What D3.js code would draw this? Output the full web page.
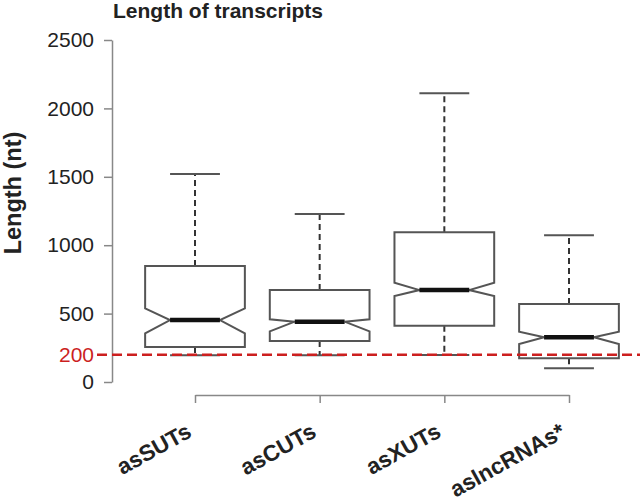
<!DOCTYPE html>
<html>
<head>
<meta charset="utf-8">
<script src="https://cdn.jsdelivr.net/npm/d3@7"></script>
<style>
  body { margin: 0; background: #fff; }
  text { font-family: "Liberation Sans", Arial, Helvetica, sans-serif; }
</style>
</head>
<body>
<div id="chart"></div>
<script>
// values (nt)
const categories = ["asSUTs", "asCUTs", "asXUTs", "aslncRNAs*"];
const whiskerHigh = [1520, 1228, 2110, 1072];
const q3 = [848, 672, 1094, 570];
const median = [453, 441, 672, 327];
const q1 = [256, 300, 412, 173];
const whiskerLow = [196, 196, 198, 100];
const notchLow = [356, 370, 629, 278];
const notchHigh = [538, 458, 726, 368];
const yTicks = [0, 500, 1000, 1500, 2000, 2500];
const cutoff = 200;

const width = 640, height = 503;

const svg = d3.select("#chart")
    .append("svg")
    .attr("width", width)
    .attr("height", height);

const y = d3.scaleLinear().domain([0, 2500]).range([382, 40]);
const x = d3.scalePoint().domain(categories).range([195, 569]);
const boxW = x.step() * 0.8;

// title
svg.append("text")
    .attr("x", 113)
    .attr("y", 18)
    .attr("font-size", 21)
    .attr("font-weight", "bold")
    .attr("fill", "#222")
    .text("Length of transcripts");

// y label
svg.append("text")
    .attr("transform", "translate(21,193) rotate(-90)")
    .attr("text-anchor", "middle")
    .attr("font-size", 23.5)
    .attr("font-weight", "bold")
    .attr("fill", "#222")
    .text("Length (nt)");

// y axis
const yAxis = svg.append("g")
    .attr("transform", "translate(112,0)")
    .call(d3.axisLeft(y).tickValues(yTicks).tickFormat(d3.format("d"))
        .tickSize(8).tickSizeOuter(0).tickPadding(10));
yAxis.select(".domain").attr("stroke", "#888").attr("stroke-width", 1.5);
yAxis.selectAll(".tick line").attr("stroke", "#888").attr("stroke-width", 1.5);
yAxis.selectAll(".tick text")
    .attr("font-size", 21)
    .attr("fill", "#222")
    .style("font-family", "'Liberation Sans', Arial, sans-serif");

// red cutoff label
svg.append("text")
    .attr("x", 94)
    .attr("y", y(cutoff))
    .attr("dy", "0.35em")
    .attr("text-anchor", "end")
    .attr("font-size", 21)
    .attr("fill", "#cc1f1f")
    .text(cutoff);

// x axis
const xAxis = svg.append("g")
    .attr("transform", "translate(0,395)")
    .call(d3.axisBottom(x).tickSize(8).tickSizeOuter(0).tickFormat(""));
xAxis.select(".domain").attr("stroke", "#888").attr("stroke-width", 1.5);
xAxis.selectAll(".tick line").attr("stroke", "#888").attr("stroke-width", 1.5);

svg.selectAll(".xlab")
    .data(categories)
    .enter()
    .append("text")
    .attr("class", "xlab")
    .attr("transform", d => "translate(" + (x(d) - 2) + ",436) rotate(-29)")
    .attr("text-anchor", "end")
    .attr("font-size", 22.5)
    .attr("font-weight", "bold")
    .attr("fill", "#222")
    .text(d => d);

const stroke = "#555";

// boxes
const boxes = svg.selectAll(".box")
    .data(categories)
    .enter()
    .append("g")
    .attr("class", "box");

// whiskers (dashed)
boxes.append("line")
    .attr("x1", d => x(d)).attr("x2", d => x(d))
    .attr("y1", (d, i) => y(q3[i])).attr("y2", (d, i) => y(whiskerHigh[i]))
    .attr("stroke", "#333").attr("stroke-width", 2).attr("stroke-dasharray", "6,4");
boxes.append("line")
    .attr("x1", d => x(d)).attr("x2", d => x(d))
    .attr("y1", (d, i) => y(q1[i])).attr("y2", (d, i) => y(whiskerLow[i]))
    .attr("stroke", "#333").attr("stroke-width", 2).attr("stroke-dasharray", "6,4");

// caps
boxes.append("line")
    .attr("x1", d => x(d) - boxW / 4).attr("x2", d => x(d) + boxW / 4)
    .attr("y1", (d, i) => y(whiskerHigh[i])).attr("y2", (d, i) => y(whiskerHigh[i]))
    .attr("stroke", stroke).attr("stroke-width", 2);
boxes.append("line")
    .attr("x1", d => x(d) - boxW / 4).attr("x2", d => x(d) + boxW / 4)
    .attr("y1", (d, i) => y(whiskerLow[i])).attr("y2", (d, i) => y(whiskerLow[i]))
    .attr("stroke", stroke).attr("stroke-width", 2);

// notched box
boxes.append("path")
    .attr("d", (d, i) => {
        const l = x(d) - boxW / 2, r = x(d) + boxW / 2, ins = boxW / 4;
        const p = d3.path();
        p.moveTo(l, y(q3[i]));
        p.lineTo(r, y(q3[i]));
        p.lineTo(r, y(notchHigh[i]));
        p.lineTo(r - ins, y(median[i]));
        p.lineTo(r, y(notchLow[i]));
        p.lineTo(r, y(q1[i]));
        p.lineTo(l, y(q1[i]));
        p.lineTo(l, y(notchLow[i]));
        p.lineTo(l + ins, y(median[i]));
        p.lineTo(l, y(notchHigh[i]));
        p.closePath();
        return p.toString();
    })
    .attr("fill", "#fff")
    .attr("stroke", stroke)
    .attr("stroke-width", 2)
    .attr("stroke-linejoin", "miter");

// median
boxes.append("line")
    .attr("x1", d => x(d) - boxW / 4).attr("x2", d => x(d) + boxW / 4)
    .attr("y1", (d, i) => y(median[i])).attr("y2", (d, i) => y(median[i]))
    .attr("stroke", "#111").attr("stroke-width", 4.5);

// red dashed cutoff line on top
svg.append("line")
    .attr("x1", 97).attr("x2", width)
    .attr("y1", y(cutoff)).attr("y2", y(cutoff))
    .attr("stroke", "#cc1f1f")
    .attr("stroke-width", 2.5)
    .attr("stroke-dasharray", "10,5");
</script>
</body>
</html>
